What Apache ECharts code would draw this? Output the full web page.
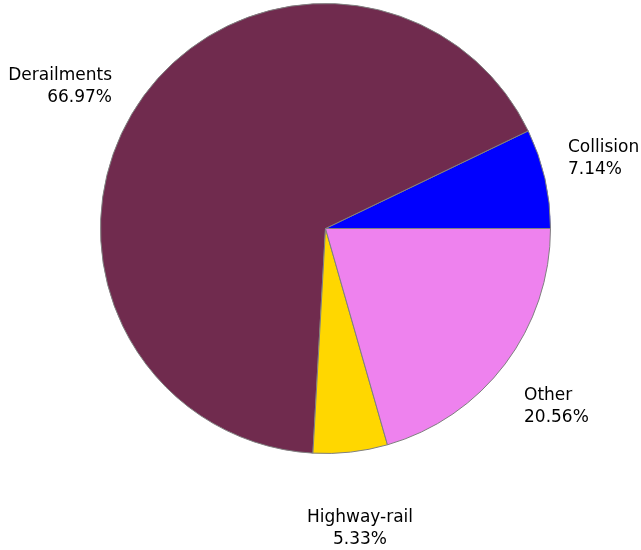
<!DOCTYPE html>
<html>
<head>
<meta charset="utf-8">
<script src="https://cdn.jsdelivr.net/npm/echarts@6/dist/echarts.min.js"></script>
<style>
  html, body { margin: 0; padding: 0; background: #fff; }
  #chart { width: 641px; height: 550px; }
</style>
</head>
<body>
<div id="chart"></div>
<script>
// pie data
var categories = ["Collision", "Derailments", "Highway-rail", "Other"];
var values = [7.14, 66.97, 5.33, 20.56];
var colors = ["#0000ff", "#702b4e", "#ffd700", "#ee82ee"];

// where each label sits (x, top y, align)
var labelSpots = [
  { x: 568, y: 137, align: "left" },
  { x: 112, y: 65, align: "right" },
  { x: 360, y: 507, align: "center" },
  { x: 524, y: 385, align: "left" }
];

var chart = echarts.init(document.getElementById("chart"));

chart.setOption({
  animation: false,
  backgroundColor: "#ffffff",
  series: [
    {
      type: "pie",
      center: [325.5, 228.5],
      radius: 225,
      startAngle: 0,
      clockwise: false,
      silent: true,
      avoidLabelOverlap: false,
      itemStyle: {
        borderColor: "#808080",
        borderWidth: 1
      },
      label: {
        show: true,
        position: "outside",
        alignTo: "none",
        overflow: "none",
        bleedMargin: 0,
        color: "#000",
        fontFamily: "DejaVu Sans",
        fontSize: 17,
        lineHeight: 22,
        formatter: function (p) {
          return p.name + "\n" + p.value.toFixed(2) + "%";
        }
      },
      labelLine: { show: false },
      labelLayout: function (params) {
        var s = labelSpots[params.dataIndex];
        return {
          x: s.x,
          y: s.y,
          align: s.align,
          verticalAlign: "top"
        };
      },
      data: categories.map(function (name, i) {
        return {
          name: name,
          value: values[i],
          itemStyle: { color: colors[i] }
        };
      })
    }
  ]
});
</script>
</body>
</html>
